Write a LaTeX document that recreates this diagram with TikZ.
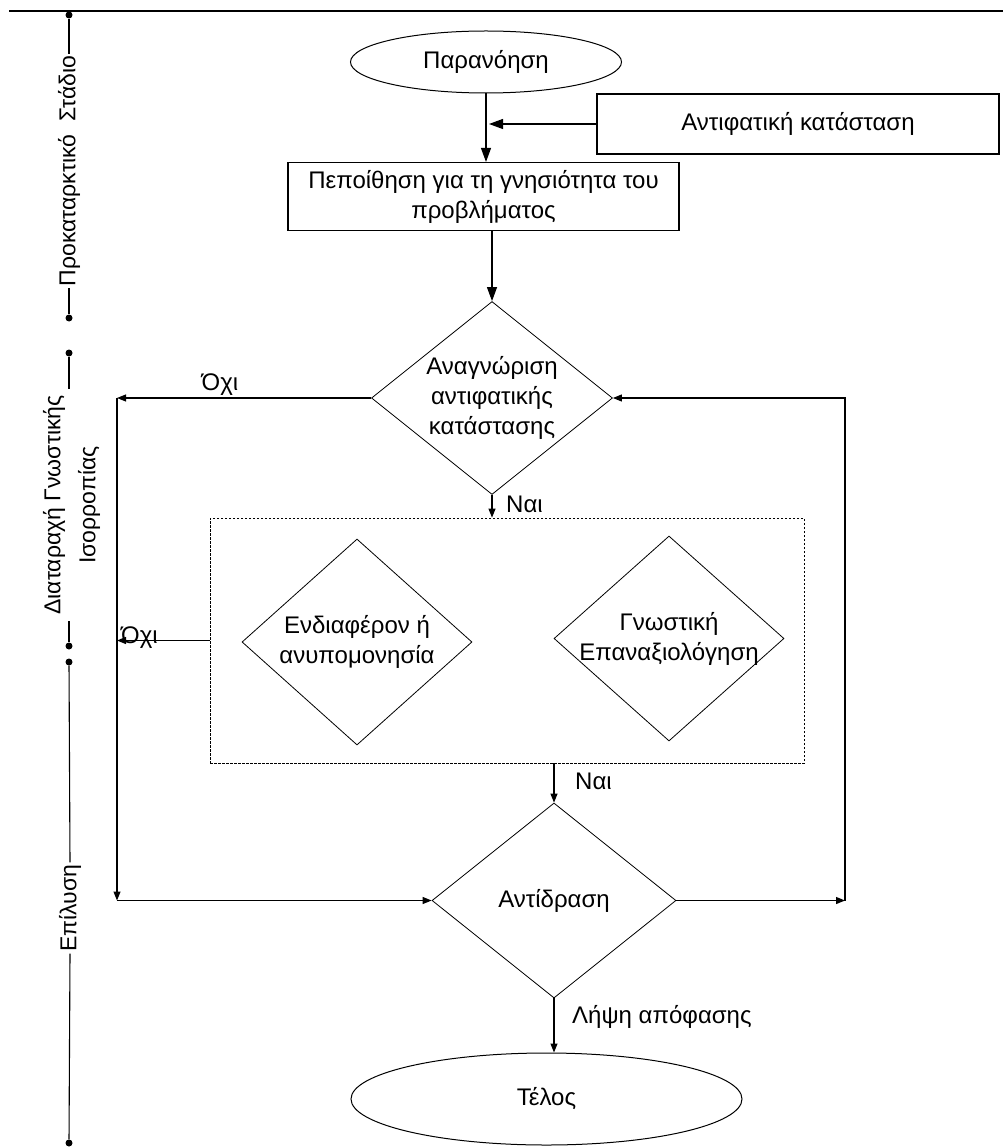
\documentclass[tikz,border=0pt]{standalone}
\usepackage{fontspec}
\setmainfont{Liberation Sans}
\usetikzlibrary{shapes.geometric,arrows.meta}
\begin{document}
\begin{tikzpicture}[x=1pt,y=-1pt,
  every node/.style={font=\fontsize{24}{30}\selectfont},
  line/.style={line width=1.1pt},
  bigarr/.style={line width=1.1pt,-{Triangle[length=14pt,width=10pt]}},
  smallarr/.style={line width=1.1pt,-{Triangle[length=9pt,width=7pt]}},
  boxnode/.style={draw,line width=1.1pt,rectangle,inner sep=0pt,align=center},
  ellnode/.style={draw,line width=1pt,ellipse,inner sep=0pt},
  dia/.style={draw,line width=0.8pt,diamond,inner sep=0pt},
  dtext/.style={align=center,inner sep=0pt},
  lbl/.style={inner sep=0pt},
  tdot/.style={circle,fill,inner sep=0pt,minimum size=7pt},
  stage/.style={rotate=90,inner sep=0pt,inner xsep=2pt,align=center,font=\fontsize{23}{35}\selectfont},
  dashbox/.style={draw,dash pattern=on 2.5pt off 1.5pt,line width=0.8pt,inner sep=0pt},
]
\useasboundingbox (0,0) rectangle (1003,1147);
\fill[white] (0,0) rectangle (1003,1147);

% top rule
\coordinate (r0) at (9,11);
\coordinate (r1) at (1003,11);
\draw[line width=2.2pt] (r0) -- (r1);

% ---- stage timeline ----
\node[tdot] (a1) at (69,15) {};
\node[tdot] (a2) at (69,318) {};
\node[stage] (s1) at (69,171) {Προκαταρκτικό\ \ Στάδιο};
\draw[line] (a1) -- (s1.east);
\draw[line] (s1.west) -- (a2);

\node[tdot] (b1) at (69,353) {};
\node[tdot] (b2) at (69,646) {};
\node[stage] (s2) at (71.5,505) {Διαταραχή Γνωστικής\\Ισορροπίας};
\coordinate (b1e) at (69,389);
\coordinate (b2e) at (69,621);
\draw[line] (b1) -- (b1e);
\draw[line] (b2e) -- (b2);

\node[tdot] (c1) at (69,662) {};
\node[tdot] (c2) at (69,1143) {};
\node[stage] (s3) at (70,908) {Επίλυση};
\draw[line] (c1) -- (s3.east);
\draw[line] (s3.west) -- (c2);

% ---- flowchart ----
\node[ellnode,minimum width=271pt,minimum height=62pt] (e1) at (486,62) {Παρανόηση};
\node[boxnode,minimum width=402pt,minimum height=60pt] (anti) at (798,124) {Αντιφατική κατάσταση};
\node[boxnode,minimum width=391pt,minimum height=68pt] (pep) at (483.5,196.5) {Πεποίθηση για τη γνησιότητα του\\προβλήματος};

\node[dia,minimum width=241pt,minimum height=193pt] (d1) at (492,398) {};
\node[dtext] (t1) at (d1.center) {Αναγνώριση\\αντιφατικής\\κατάστασης};

\node[dashbox,minimum width=594pt,minimum height=245pt] (db) at (507,640.5) {};
\node[dia,minimum width=230pt,minimum height=206pt] (i1) at (357,642) {};
\node[dtext] (ti1) at (i1.center) {Ενδιαφέρον ή\\ανυπομονησία};
\node[dia,minimum width=230pt,minimum height=205pt] (i2) at (669,638.5) {};
\node[dtext] (ti2) at (i2.center) {Γνωστική\\Επαναξιολόγηση};

\node[dia,minimum width=244pt,minimum height=195pt] (d3) at (554,900.5) {};
\node[dtext] (t3) at (d3.center) {Αντίδραση};

\node[ellnode,minimum width=391pt,minimum height=92pt] (e2) at (546.5,1099) {Τέλος};

% connectors
\draw[bigarr] (e1.south) -- (e1.south |- pep.north);
\draw[bigarr,shorten >=3pt] (anti.west) -- (anti.west -| e1.south);
\draw[bigarr] (pep.south -| d1.north) -- (d1.north);

\coordinate (L1) at (117,398);
\coordinate (L2) at (117,640.5);
\coordinate (L3) at (117,900.5);
\coordinate (R1) at (845,900.5);
\coordinate (R2) at (845,398);

\draw[smallarr] (d1.west) -- (L1);
\node[lbl,anchor=base] (no1) at (220,390) {Όχι};
\draw[smallarr] (d1.south) -- (d1.south |- db.north);
\node[lbl,anchor=base west] (yes1) at (506,512) {Ναι};

\draw[smallarr] (db.west) -- (L2);
\node[lbl,anchor=base west] (no2) at (121,643) {Όχι};

\draw[smallarr] (L1) -- (L3);
\draw[smallarr] (L3) -- (d3.west);

\draw[smallarr] (db.south -| d3.north) -- (d3.north);
\node[lbl,anchor=base west] (yes2) at (575,789) {Ναι};

\draw[smallarr] (d3.east) -- (R1);
\draw[smallarr] (R1) -- (R2) -- (d1.east);

\draw[smallarr] (d3.south) -- (d3.south |- e2.north);
\node[lbl,anchor=base west] (dec) at (572,1023) {Λήψη απόφασης};
\end{tikzpicture}
\end{document}
